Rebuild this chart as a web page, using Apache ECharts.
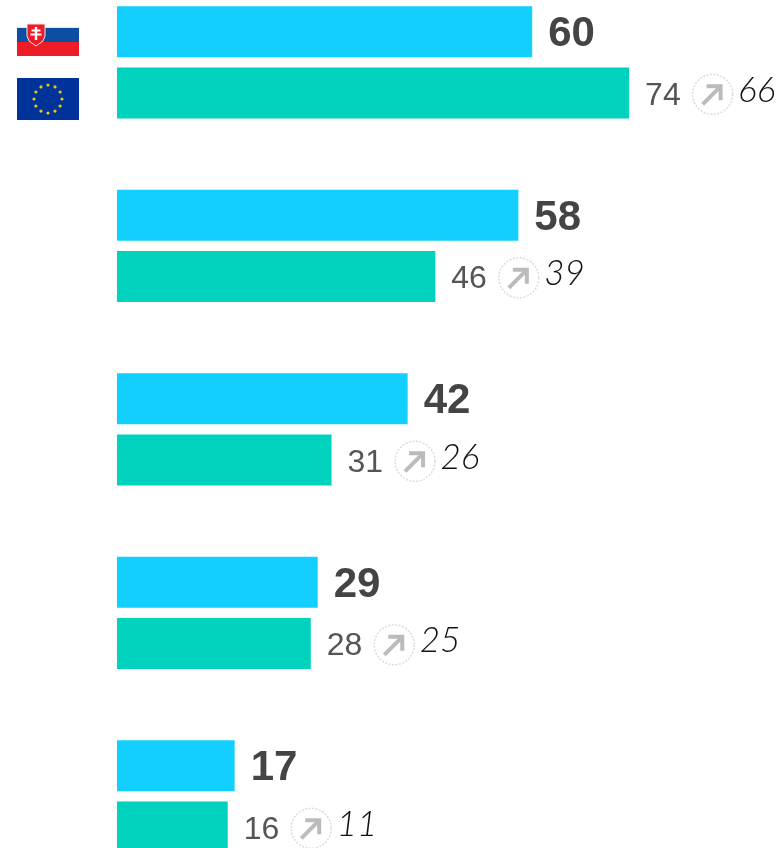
<!DOCTYPE html>
<html>
<head>
<meta charset="utf-8">
<style>html,body{margin:0;padding:0;background:#fff}#c{width:780px;height:848px}</style>
<script src="https://cdn.jsdelivr.net/npm/echarts@6/dist/echarts.min.js"></script>
</head>
<body>
<div id="c"></div>
<script>
var categories = ['A', 'B', 'C', 'D', 'E'];
var skValues = [60, 58, 42, 29, 17];
var euValues = [74, 46, 31, 28, 16];
var previousValues = [66, 39, 26, 25, 11];

var chart = echarts.init(document.getElementById('c'), null, {renderer: 'canvas'});

function renderTrend(params, api) {
  var p = api.coord([api.value(0), api.value(1)]);
  var x = p[0], y = p[1] + 30.5;
  var cx = x + 83.5, cy = y + 1.5;
  return {
    type: 'group',
    children: [
      {type: 'circle', shape: {cx: cx, cy: cy, r: 20},
        style: {fill: '#fff', stroke: '#dcdcdc', lineWidth: 1.5, lineDash: [2, 1.5]}},
      {type: 'polyline', shape: {points: [[cx - 10, cy + 10], [cx + 7, cy - 7]]},
        style: {fill: null, stroke: '#bbbbbb', lineWidth: 4}},
      {type: 'polyline', shape: {points: [[cx - 6, cy - 8], [cx + 8, cy - 8], [cx + 8, cy + 6]]},
        style: {fill: null, stroke: '#bbbbbb', lineWidth: 4}},
      {type: 'text', style: {
        x: x + 109, y: y - 2.5, text: String(api.value(2)),
        font: 'italic 300 35px Lato, "Open Sans", sans-serif',
        fill: '#111', align: 'left', verticalAlign: 'middle'}}
    ]
  };
}

var flagGraphics = [
  {type: 'rect', shape: {x: 17, y: 27, width: 62, height: 1.5}, style: {fill: '#dfe6ee'}},
  {type: 'rect', shape: {x: 17, y: 28, width: 62, height: 14}, style: {fill: '#0b4ea2'}},
  {type: 'rect', shape: {x: 17, y: 42, width: 62, height: 14}, style: {fill: '#ee1c25'}},
  {type: 'polygon', shape: {points: [[27,24],[45,24],[45,36],[43,41],[36,46],[29,41],[27,36]]},
    style: {fill: '#ee1c25', stroke: '#e6e9f2', lineWidth: 1}},
  {type: 'rect', shape: {x: 34.8, y: 27, width: 2.4, height: 13}, style: {fill: '#fff'}},
  {type: 'rect', shape: {x: 31.5, y: 29.5, width: 9, height: 2}, style: {fill: '#fff'}},
  {type: 'rect', shape: {x: 30.5, y: 33.5, width: 11, height: 2}, style: {fill: '#fff'}},
  {type: 'rect', shape: {x: 17, y: 78, width: 62, height: 42}, style: {fill: '#003399'}}
];
for (var i = 0; i < 12; i++) {
  var a = i * Math.PI / 6;
  flagGraphics.push({type: 'circle',
    shape: {cx: 48 + 14 * Math.sin(a), cy: 99 - 14 * Math.cos(a), r: 1.6},
    style: {fill: '#e8c81a'}});
}

chart.setOption({
  animation: false,
  backgroundColor: '#fff',
  grid: {left: 117, top: -29.4, width: 692, height: 917.5, outerBoundsMode: 'none'},
  xAxis: {type: 'value', min: 0, max: 100, show: false},
  yAxis: {type: 'category', data: categories, inverse: true, show: false},
  graphic: flagGraphics,
  series: [
    {type: 'bar', data: skValues, barWidth: 51, barGap: '20%',
      itemStyle: {color: '#12cfff'},
      label: {show: true, position: 'right', distance: 16, offset: [0, 3], color: '#444',
        fontFamily: 'Liberation Sans', fontWeight: 'bold', fontSize: 42}},
    {type: 'bar', data: euValues, barWidth: 51,
      itemStyle: {color: '#00d2be'},
      label: {show: true, position: 'right', distance: 16, offset: [0, 3], color: '#555',
        fontFamily: 'Liberation Sans', fontSize: 32}},
    {type: 'custom', renderItem: renderTrend, silent: true, clip: false, z: 5,
      encode: {x: 0, y: 1},
      data: euValues.map(function (v, i) { return [v, i, previousValues[i]]; })}
  ]
});
</script>
</body>
</html>
